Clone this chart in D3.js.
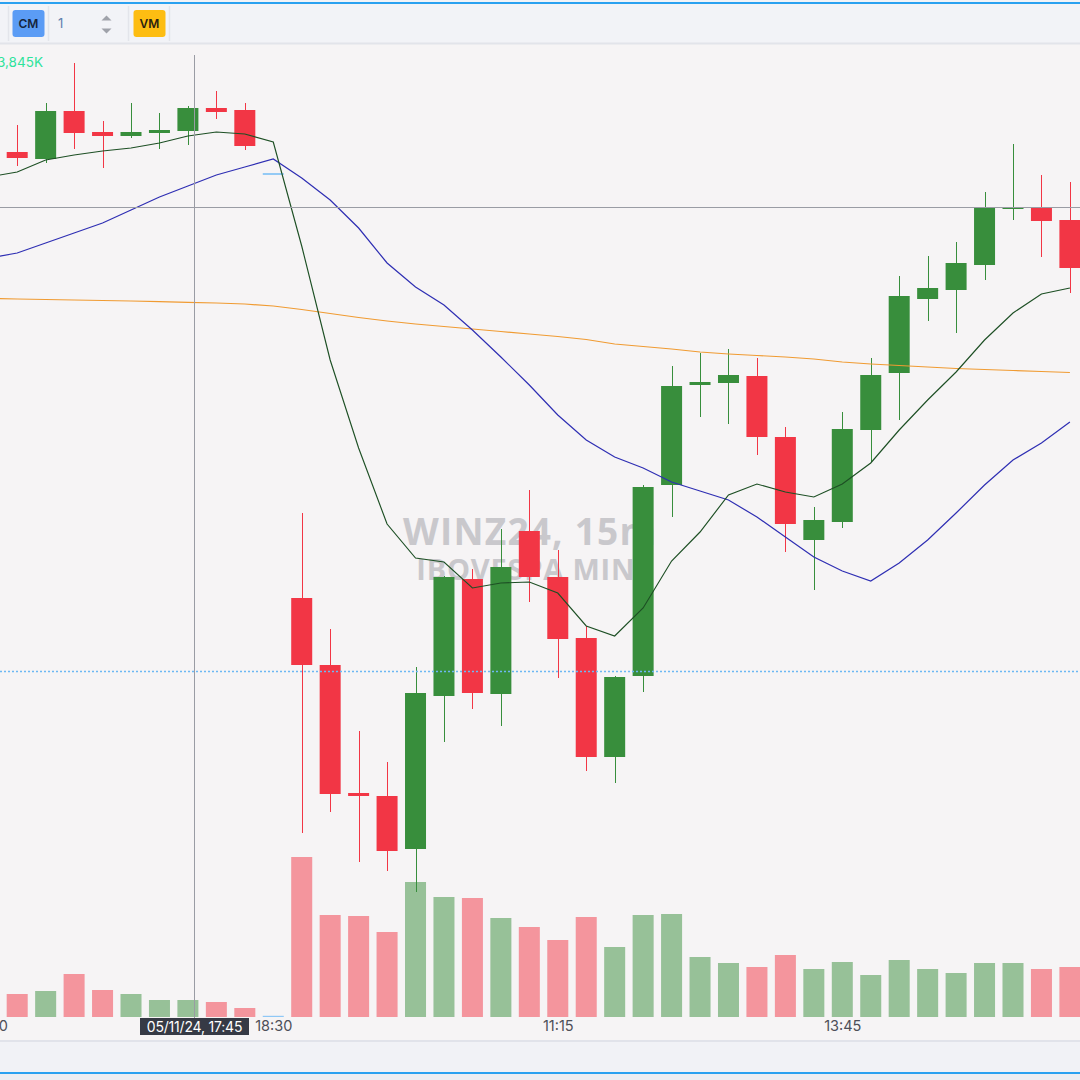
<!DOCTYPE html>
<html><head><meta charset="utf-8">
<script src="https://cdn.jsdelivr.net/npm/d3@7"></script>
<style>html,body{margin:0;padding:0;background:#f6f4f5;}svg{display:block;}</style>
</head><body>
<svg id="chart" width="1080" height="1080"></svg>
<script>
// ---------- DATA ----------
const times = ["16:15","16:30","16:45","17:00","17:15","17:30","17:45","18:00","18:15","18:30","09:00","09:15","09:30","09:45","10:00","10:15","10:30","10:45","11:00","11:15","11:30","11:45","12:00","12:15","12:30","12:45","13:00","13:15","13:30","13:45","14:00","14:15","14:30","14:45","15:00","15:15","15:30","15:45"];
const opens  = [130240,130205,130445,130340,130320,130335,130345,130460,130450,130130,128010,127675,127035,127020,126755,127520,128105,127530,128345,128115,127810,127215,127620,128575,129075,129085,129120,128815,128300,128390,128850,129135,129505,129550,129675,129955,129960,129900];
const highs  = [130375,130485,130685,130395,130485,130435,130470,130545,130485,130130,128435,127855,127345,127190,127665,128120,128155,128355,128550,128250,127870,127620,128575,129170,129235,129255,129210,128865,128465,128940,129210,129620,129720,129790,130040,130280,130125,130090];
const lows   = [130170,130185,130255,130160,130310,130255,130275,130405,130250,130130,126835,126940,126690,126645,126540,127290,127455,127370,127990,127610,127145,127085,127540,128415,128915,128880,128725,128240,128050,128360,128690,128900,129395,129335,129600,129900,129715,129535];
const closes = [130210,130445,130335,130320,130340,130350,130460,130440,130270,130130,127675,127030,127020,126745,127535,128115,127535,128165,128115,127805,127215,127615,128565,129070,129090,129125,128815,128380,128400,128855,129125,129520,129560,129685,129960,129965,129895,129660];
const volumes = [11500,13000,21500,13500,11500,8500,8500,7500,4500,300,80000,51000,50500,42500,67500,60000,59500,49500,45000,38500,50000,35000,51000,51500,30000,27000,25000,31000,24000,27500,21000,28500,24000,22000,27000,27000,24000,25000];
// moving averages, first value belongs to the bar before the first visible candle
const maStart = -1;
const maShort = [130115,130140,130200,130225,130245,130260,130285,130320,130340,130330,130290,129770,129200,128760,128380,128210,128190,128060,128085,128090,128035,127870,127820,127960,128195,128340,128525,128580,128540,128515,128580,128685,128850,129000,129140,129300,129435,129530,129560];
const maMid   = [129710,129735,129785,129835,129885,129950,130015,130070,130125,130165,130205,130110,130000,129860,129685,129565,129475,129350,129215,129075,128925,128800,128715,128660,128590,128545,128500,128415,128315,128215,128145,128095,128185,128300,128435,128575,128700,128785,128890];
const maLong  = [129507.5,129505,129502.5,129500,129497.5,129495,129491.5,129488.5,129485,129480,129470,129452.5,129432.5,129412.5,129395,129380,129367.5,129355,129342.5,129330,129317.5,129302.5,129280,129267.5,129255,129240,129230,129222.5,129215,129205,129190,129180,129172.5,129165,129157.5,129152.5,129147.5,129142.5,129137.5];
const tickIndex = [-1, 9, 19, 29];
const tickLabels = ["16:00","18:30","11:15","13:45"];
const crosshairIndex = 6.2, crosshairPrice = 129965, crosshairLabel = "05/11/24, 17:45";
const priceLine = 127645;
const watermark = ["WINZ24, 15m", "IBOVESPA MINI"];
const legendText = "3,845K";

// ---------- SETUP ----------
const W = 1080, H = 1080;
const svg = d3.select("#chart");
const x = d3.scaleLinear().domain([0, times.length - 1]).range([17.2, 1069.9]);
const y = d3.scaleLinear().domain([126000, 130500]).range([1000, 100]);
const yv = d3.scaleLinear().domain([0, 80000]).range([1017, 857]);
const barW = 21;
const UP = "#388e3c", DOWN = "#f23645", NEUTRAL = "#7cc0f5";
const idx = d3.range(times.length);
const dir = i => closes[i] > opens[i] ? 1 : (closes[i] < opens[i] ? -1 : 0);
const col = i => dir(i) > 0 ? UP : dir(i) < 0 ? DOWN : NEUTRAL;
const vcol = i => dir(i) > 0 ? "rgba(56,142,60,0.5)" : dir(i) < 0 ? "rgba(242,54,69,0.5)" : "rgba(100,181,246,0.7)";
const UIFONT = "Inter, 'Open Sans', sans-serif";

// backgrounds
svg.append("rect").attr("width", W).attr("height", H).attr("fill", "#f6f4f5");
svg.append("rect").attr("x", 0).attr("y", 0).attr("width", W).attr("height", 44).attr("fill", "#f2f3f7");
svg.append("rect").attr("x", 0).attr("y", 2).attr("width", W).attr("height", 2).attr("fill", "#2aa1f0");
svg.append("rect").attr("x", 0).attr("y", 42.5).attr("width", W).attr("height", 2).attr("fill", "#e2e4ea");
svg.append("rect").attr("x", 0).attr("y", 1040).attr("width", W).attr("height", 40).attr("fill", "#f1f2f6");
svg.append("rect").attr("x", 0).attr("y", 1040).attr("width", W).attr("height", 2).attr("fill", "#e1e3ea");
svg.append("rect").attr("x", 0).attr("y", 1072).attr("width", W).attr("height", 2).attr("fill", "#2aa1f0");
svg.append("rect").attr("x", 0).attr("y", 1074).attr("width", W).attr("height", 6).attr("fill", "#eceef2");

// toolbar
const tb = svg.append("g");
[8.5, 48.5, 128.5, 169.5].forEach(sx => tb.append("line").attr("x1", sx).attr("x2", sx).attr("y1", 6).attr("y2", 41).attr("stroke", "#e3e5eb").attr("stroke-width", 1.5));
tb.append("rect").attr("x", 12.5).attr("y", 10).attr("width", 32).attr("height", 27).attr("rx", 3).attr("fill", "#5b9cf5");
tb.append("text").attr("x", 28.5).attr("y", 28).attr("text-anchor", "middle").attr("font-family", UIFONT).attr("font-weight", 600).attr("font-size", 12).attr("fill", "#15253d").text("CM");
tb.append("text").attr("x", 58).attr("y", 28).attr("font-family", UIFONT).attr("font-size", 13).attr("fill", "#5f7fae").text("1");
tb.append("path").attr("d", "M101.5,20.5 L106.5,15.5 L111.5,20.5 Z").attr("fill", "#9fa2aa");
tb.append("path").attr("d", "M101.5,28.5 L106.5,33.5 L111.5,28.5 Z").attr("fill", "#9fa2aa");
tb.append("rect").attr("x", 133.5).attr("y", 10).attr("width", 32).attr("height", 27).attr("rx", 3).attr("fill", "#fdbd12");
tb.append("text").attr("x", 149.5).attr("y", 28).attr("text-anchor", "middle").attr("font-family", UIFONT).attr("font-weight", 600).attr("font-size", 12).attr("fill", "#2a2210").text("VM");

// watermark
const wm = svg.append("g").attr("font-family", "'Open Sans', sans-serif").attr("font-weight", 700).attr("fill", "#c9c8cc").attr("text-anchor", "middle");
wm.append("text").attr("x", 530).attr("y", 545).attr("font-size", 37).attr("letter-spacing", 1.2).text(watermark[0]);
wm.append("text").attr("x", 531).attr("y", 580).attr("font-size", 29).attr("letter-spacing", 0.8).text(watermark[1]);

// legend
svg.append("text").attr("x", -3).attr("y", 67).attr("text-anchor", "start").attr("font-family", UIFONT).attr("font-size", 13.5).attr("fill", "#2ee39b").text(legendText);

// volume bars
svg.append("g").selectAll("rect").data(idx).join("rect")
  .attr("x", i => x(i) - barW / 2).attr("width", barW)
  .attr("y", i => Math.min(yv(volumes[i]), yv(0) - 1.2))
  .attr("height", i => Math.max(yv(0) - yv(volumes[i]), 1.2))
  .attr("fill", vcol);

// candles
const cg = svg.append("g");
cg.selectAll("line").data(idx).join("line")
  .attr("x1", i => Math.round(x(i)) + 0.5).attr("x2", i => Math.round(x(i)) + 0.5)
  .attr("y1", i => y(highs[i])).attr("y2", i => y(lows[i]))
  .attr("stroke", col).attr("stroke-width", 1);
cg.selectAll("rect").data(idx).join("rect")
  .attr("x", i => x(i) - barW / 2).attr("width", barW)
  .attr("y", i => Math.min(y(opens[i]), y(closes[i])) - (dir(i) === 0 ? 0.8 : 0))
  .attr("height", i => Math.max(Math.abs(y(opens[i]) - y(closes[i])), 1.6))
  .attr("fill", col);

// moving averages
const maLine = d3.line().x((d, k) => x(k + maStart)).y(d => y(d));
svg.append("path").attr("d", maLine(maLong)).attr("fill", "none").attr("stroke", "#f09b32").attr("stroke-width", 1.2);
svg.append("path").attr("d", maLine(maMid)).attr("fill", "none").attr("stroke", "#2e2eb3").attr("stroke-width", 1.2);
svg.append("path").attr("d", maLine(maShort)).attr("fill", "none").attr("stroke", "#1d4f24").attr("stroke-width", 1.15);

// price line (dotted)
svg.append("line").attr("x1", 0).attr("x2", W).attr("y1", Math.round(y(priceLine)) + 0.5).attr("y2", Math.round(y(priceLine)) + 0.5)
  .attr("stroke", "#6db8f3").attr("stroke-width", 1.5).attr("stroke-dasharray", "2,2");

// crosshair
const cx = Math.round(x(crosshairIndex)) + 0.5, cy = Math.round(y(crosshairPrice)) + 0.5;
svg.append("line").attr("x1", 0).attr("x2", W).attr("y1", cy).attr("y2", cy).attr("stroke", "#9a9ca4").attr("stroke-width", 1);
svg.append("line").attr("x1", cx).attr("x2", cx).attr("y1", 55).attr("y2", 1018).attr("stroke", "#9a9ca4").attr("stroke-width", 1);

// time axis
const axis = d3.axisBottom(x).tickValues(tickIndex).tickFormat((d, k) => tickLabels[k]).tickSize(0).tickPadding(0);
const ag = svg.append("g").attr("transform", "translate(0,1018)").call(axis);
ag.select(".domain").remove();
ag.selectAll("text").attr("font-family", UIFONT).attr("font-size", 14.5).attr("fill", "#4d4f58").attr("dy", "0.9em");

// crosshair time label
svg.append("rect").attr("x", cx - 54.5).attr("y", 1018).attr("width", 109).attr("height", 17).attr("fill", "#363a45");
svg.append("text").attr("x", cx).attr("y", 1031.5).attr("text-anchor", "middle").attr("font-family", UIFONT).attr("font-size", 14).attr("letter-spacing", -0.2).attr("fill", "#ffffff").text(crosshairLabel);
</script>
</body></html>
